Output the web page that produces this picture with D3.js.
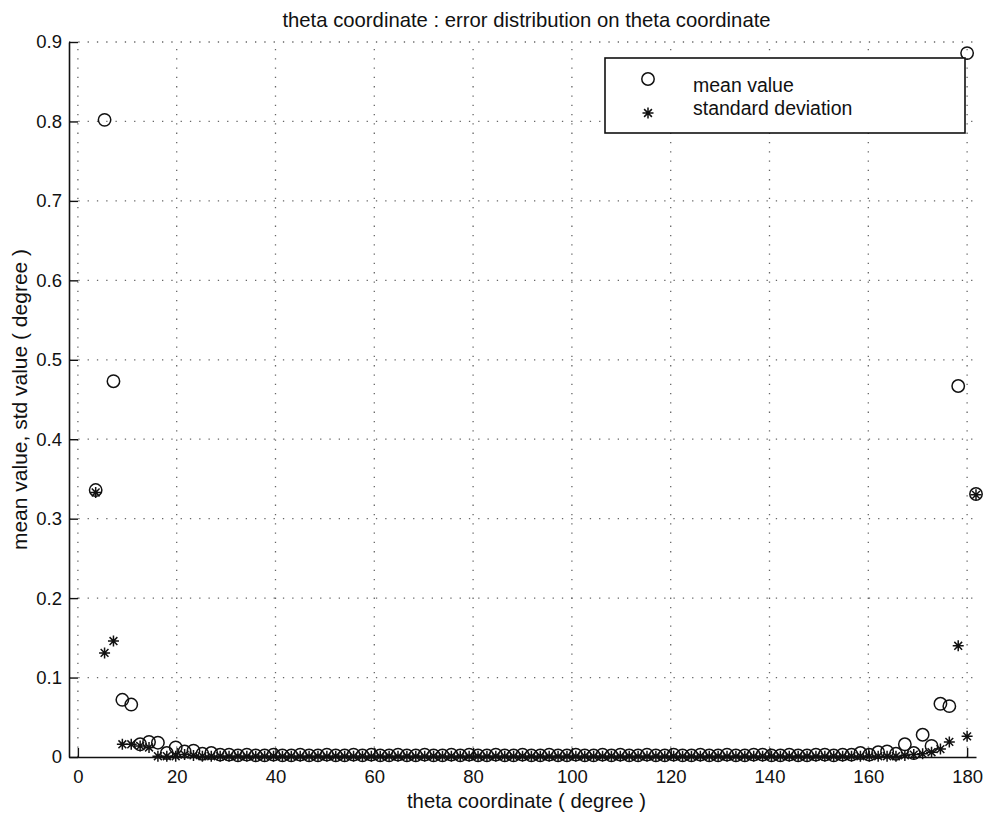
<!DOCTYPE html>
<html>
<head>
<meta charset="utf-8">
<script src="https://cdn.jsdelivr.net/npm/d3@7"></script>
<style>
  body { margin: 0; background: #fff; }
  text { font-family: "Liberation Sans", Arial, Helvetica, sans-serif; fill: #111; }
</style>
</head>
<body>
<svg id="chart" width="988" height="817"></svg>
<script>
// theta samples (degree)
const theta = [
  3.6, 5.4, 7.2, 9.0, 10.8, 12.6, 14.4, 16.2, 18.0, 19.8,
  21.6, 23.4, 25.2, 27.0, 28.8, 30.6, 32.4, 34.2, 36.0, 37.8,
  39.6, 41.4, 43.2, 45.0, 46.8, 48.6, 50.4, 52.2, 54.0, 55.8,
  57.6, 59.4, 61.2, 63.0, 64.8, 66.6, 68.4, 70.2, 72.0, 73.8,
  75.6, 77.4, 79.2, 81.0, 82.8, 84.6, 86.4, 88.2, 90.0, 91.8,
  93.6, 95.4, 97.2, 99.0, 100.8, 102.6, 104.4, 106.2, 108.0, 109.8,
  111.6, 113.4, 115.2, 117.0, 118.8, 120.6, 122.4, 124.2, 126.0, 127.8,
  129.6, 131.4, 133.2, 135.0, 136.8, 138.6, 140.4, 142.2, 144.0, 145.8,
  147.6, 149.4, 151.2, 153.0, 154.8, 156.6, 158.4, 160.2, 162.0, 163.8,
  165.6, 167.4, 169.2, 171.0, 172.8, 174.6, 176.4, 178.2, 180.0, 181.8
];

// mean error (degree)
const meanValue = [
  0.336, 0.802, 0.473, 0.072, 0.066, 0.016, 0.019, 0.018, 0.005, 0.012,
  0.007, 0.008, 0.004, 0.005, 0.003, 0.003, 0.002, 0.003, 0.002, 0.002,
  0.003, 0.002, 0.002, 0.003, 0.002, 0.002, 0.003, 0.002, 0.002, 0.003,
  0.002, 0.003, 0.002, 0.002, 0.003, 0.002, 0.002, 0.003, 0.002, 0.002,
  0.003, 0.002, 0.003, 0.002, 0.002, 0.003, 0.002, 0.002, 0.003, 0.002,
  0.002, 0.003, 0.002, 0.002, 0.003, 0.002, 0.002, 0.003, 0.002, 0.003,
  0.002, 0.002, 0.003, 0.002, 0.002, 0.003, 0.002, 0.002, 0.003, 0.002,
  0.002, 0.003, 0.002, 0.002, 0.003, 0.003, 0.002, 0.002, 0.003, 0.002,
  0.002, 0.003, 0.003, 0.002, 0.003, 0.003, 0.005, 0.003, 0.006, 0.007,
  0.004, 0.016, 0.005, 0.028, 0.014, 0.067, 0.064, 0.467, 0.886, 0.331
];

// standard deviation of the error (degree)
const stdValue = [
  0.333, 0.131, 0.146, 0.016, 0.016, 0.014, 0.012, 0.001, 0.001, 0.001,
  0.003, 0.002, 0.001, 0.001, 0.001, 0.0008, 0.001, 0.0008, 0.001, 0.0008,
  0.001, 0.0008, 0.001, 0.0008, 0.0008, 0.001, 0.0008, 0.001, 0.0008, 0.0008,
  0.001, 0.0008, 0.0008, 0.001, 0.0008, 0.001, 0.0008, 0.0008, 0.001, 0.0008,
  0.001, 0.0008, 0.0008, 0.001, 0.0008, 0.001, 0.0008, 0.0008, 0.001, 0.0008,
  0.001, 0.0008, 0.0008, 0.001, 0.0008, 0.001, 0.0008, 0.0008, 0.001, 0.0008,
  0.001, 0.0008, 0.0008, 0.001, 0.0008, 0.001, 0.0008, 0.0008, 0.001, 0.0008,
  0.001, 0.0008, 0.0008, 0.001, 0.0008, 0.001, 0.0008, 0.0008, 0.001, 0.0008,
  0.001, 0.0008, 0.0008, 0.001, 0.0008, 0.001, 0.001, 0.0008, 0.001, 0.001,
  0.001, 0.002, 0.003, 0.004, 0.006, 0.010, 0.019, 0.140, 0.026, 0.330
];

const xTicks = [0, 20, 40, 60, 80, 100, 120, 140, 160, 180];
const yTicks = [0, 0.1, 0.2, 0.3, 0.4, 0.5, 0.6, 0.7, 0.8, 0.9];
const legendLabels = ["mean value", "standard deviation"];
const titleText = "theta coordinate : error distribution on theta coordinate";
const xLabel = "theta coordinate ( degree )";
const yLabel = "mean value, std value ( degree )";

const svg = d3.select("#chart");
const x = d3.scaleLinear().domain([-1.8, 181.8]).range([69, 976]);
const y = d3.scaleLinear().domain([0, 0.9]).range([757, 42]);
const [x0, x1] = x.range();
const [yb, yt] = y.range();

// dotted grid
const grid = svg.append("g")
  .attr("stroke", "#666")
  .attr("stroke-width", 1.3)
  .attr("stroke-dasharray", "1.3 8")
  .attr("fill", "none");
grid.selectAll("line.v").data(xTicks).join("line")
  .attr("class", "v")
  .attr("x1", d => x(d)).attr("x2", d => x(d))
  .attr("y1", yb).attr("y2", yt);
grid.selectAll("line.h").data(yTicks.filter(d => d > 0)).join("line")
  .attr("class", "h")
  .attr("x1", x0).attr("x2", x1)
  .attr("y1", d => y(d)).attr("y2", d => y(d));

// axes with inward ticks
const yAxis = d3.axisLeft(y)
  .tickValues(yTicks)
  .tickSizeInner(-9).tickSizeOuter(0)
  .tickPadding(7)
  .tickFormat(d => d === 0 ? "0" : d3.format(".1f")(d));
const xAxis = d3.axisBottom(x)
  .tickValues(xTicks)
  .tickSizeInner(-9).tickSizeOuter(0)
  .tickPadding(13);

const gy = svg.append("g").attr("transform", `translate(${x0},0)`).call(yAxis);
const gx = svg.append("g").attr("transform", `translate(0,${yb})`).call(xAxis);
[gx, gy].forEach(g => {
  g.select(".domain").attr("stroke", "#111").attr("stroke-width", 1.6);
  g.selectAll(".tick line").attr("stroke", "#111").attr("stroke-width", 1.4);
  g.selectAll(".tick text")
    .attr("font-family", "'Liberation Sans', Arial, sans-serif")
    .attr("font-size", 18.5).attr("fill", "#111");
});

// markers
const starPath = "M-5.5,0H5.5M0,-5.5V5.5M-3.9,-3.9L3.9,3.9M-3.9,3.9L3.9,-3.9";
const pts = theta.map((t, i) => ({ t, m: meanValue[i], s: stdValue[i] }));

svg.append("g").selectAll("circle").data(pts).join("circle")
  .attr("cx", d => x(d.t)).attr("cy", d => y(d.m))
  .attr("r", 6.2)
  .attr("fill", "none").attr("stroke", "#111").attr("stroke-width", 1.5);

svg.append("g").selectAll("path").data(pts).join("path")
  .attr("transform", d => `translate(${x(d.t)},${y(d.s)})`)
  .attr("d", starPath)
  .attr("fill", "none").attr("stroke", "#111").attr("stroke-width", 1.5);

// legend
const lg = svg.append("g");
lg.append("rect")
  .attr("x", 605).attr("y", 58).attr("width", 360).attr("height", 75)
  .attr("fill", "#fff").attr("stroke", "#111").attr("stroke-width", 1.6);
lg.append("circle").attr("cx", 648).attr("cy", 79).attr("r", 6.2)
  .attr("fill", "none").attr("stroke", "#111").attr("stroke-width", 1.5);
lg.append("path").attr("transform", "translate(648,113)").attr("d", starPath)
  .attr("fill", "none").attr("stroke", "#111").attr("stroke-width", 1.5);
lg.selectAll("text").data(legendLabels).join("text")
  .attr("x", 693).attr("y", (d, i) => i === 0 ? 92 : 115)
  .attr("font-size", 19.5)
  .text(d => d);

// titles
svg.append("text")
  .attr("x", (x0 + x1) / 2 + 4).attr("y", 27)
  .attr("text-anchor", "middle").attr("font-size", 20.3)
  .text(titleText);
svg.append("text")
  .attr("x", (x0 + x1) / 2 + 4).attr("y", 808)
  .attr("text-anchor", "middle").attr("font-size", 20.3)
  .text(xLabel);
svg.append("text")
  .attr("transform", `translate(27,${(yb + yt) / 2}) rotate(-90)`)
  .attr("text-anchor", "middle").attr("font-size", 21)
  .text(yLabel);
</script>
</body>
</html>
